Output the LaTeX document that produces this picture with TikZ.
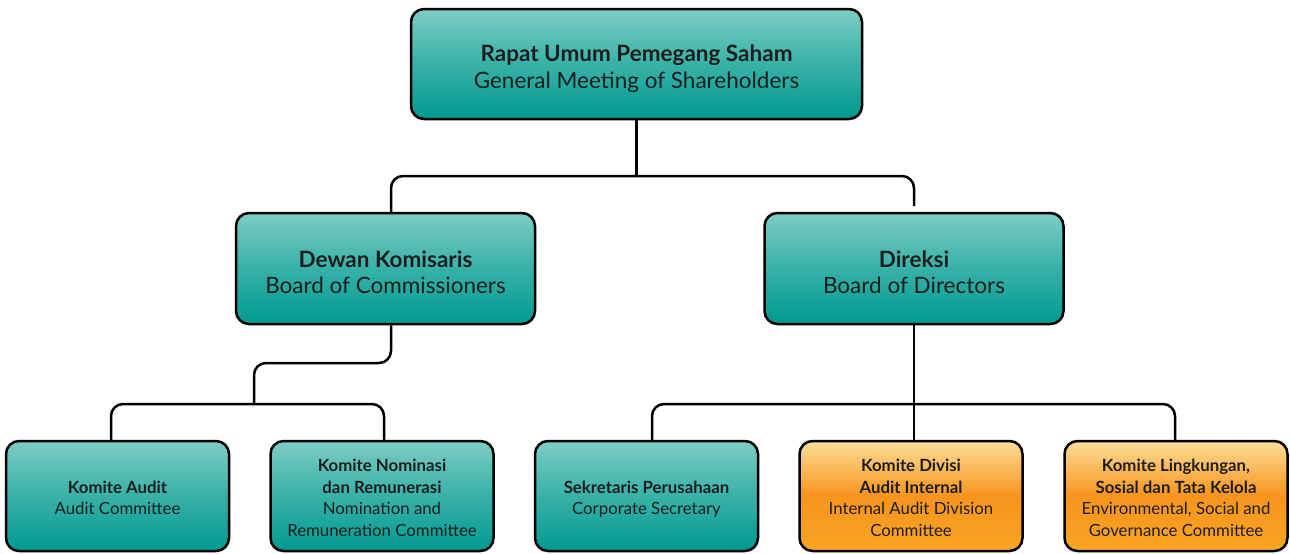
\documentclass[tikz,border=0pt]{standalone}
\usepackage{fontspec}
\setmainfont{Lato}
\definecolor{tealL}{RGB}{124,205,197}
\definecolor{tealD}{RGB}{0,154,144}
\definecolor{orgL}{RGB}{253,222,152}
\definecolor{orgM}{RGB}{247,148,30}
\definecolor{orgD}{RGB}{249,166,34}
\definecolor{txt}{RGB}{30,30,30}
\newcommand\btext[2]{\raisebox{0pt}[\dimexpr\height+#1\relax][\depth]{\begin{tabular}{@{}c@{}}#2\end{tabular}}}
\begin{document}
\begin{tikzpicture}[x=1pt,y=-1pt,
  boxbase/.style={draw=black, line width=2.5pt, rounded corners=13pt, text=txt, inner sep=0pt},
  tealbox/.style={boxbase, top color=tealL, bottom color=tealD, middle color=tealD!55!tealL},
  orgbox/.style={boxbase, top color=orgL, bottom color=orgD, middle color=orgM},
  bigbox/.style={minimum width=451pt, minimum height=110pt, font=\fontsize{22.5}{27}\selectfont},
  midbox/.style={minimum width=299pt, minimum height=111pt, font=\fontsize{22.5}{26}\selectfont},
  smallbox/.style={minimum width=223pt, minimum height=110pt, font=\fontsize{16.8}{21.5}\selectfont},
  conn/.style={draw=black, line width=2.5pt, rounded corners=12pt}]
\useasboundingbox (0,0) rectangle (1290,554);
% nodes
\node[tealbox,bigbox] (rups) at (636.5,64) {\btext{11pt}{\textbf{Rapat Umum Pemegang Saham}\\General Meeting of Shareholders}};
\node[tealbox,midbox] (dk) at (385.5,268.5) {\btext{13pt}{\textbf{Dewan Komisaris}\\Board of Commissioners}};
\node[tealbox,midbox] (dir) at (914,268.5) {\btext{13pt}{\textbf{Direksi}\\Board of Directors}};
\node[tealbox,smallbox] (ka) at (117.5,496) {\btext{7pt}{\textbf{Komite Audit}\\Audit Committee}};
\node[tealbox,smallbox] (kn) at (382,496) {\btext{7pt}{\textbf{Komite Nominasi}\\\textbf{dan Remunerasi}\\Nomination and\\Remuneration Committee}};
\node[tealbox,smallbox] (ks) at (646.5,496) {\btext{7pt}{\textbf{Sekretaris Perusahaan}\\Corporate Secretary}};
\node[orgbox,smallbox] (kd) at (911,496) {\btext{7pt}{\textbf{Komite Divisi}\\\textbf{Audit Internal}\\Internal Audit Division\\Committee}};
\node[orgbox,smallbox] (kl) at (1176,496) {\btext{7pt}{\textbf{Komite Lingkungan,}\\\textbf{Sosial dan Tata Kelola}\\Environmental, Social and\\Governance Committee}};
% junction coordinates
\coordinate (j1) at (636.5,176);
\coordinate (dirend) at (914,206);
\coordinate (j2) at (254,363);
\coordinate (j3) at (254,404);
\coordinate (j4) at (914,404);
% connectors
\draw[conn] (rups.south) -- (j1);
\draw[conn] ([xshift=5.5pt]dk.north) |- (j1) -| (dirend);
\draw[conn] ([xshift=5.5pt]dk.south) |- (j2) -- (j3);
\draw[conn] ([xshift=-6.5pt]ka.north) |- (j3) -| ([xshift=2pt]kn.north);
\draw[conn] (dir.south) -- (dir.south |- kd.north);
\draw[conn] ([xshift=5.5pt]ks.north) |- (j4) -| ([xshift=-1pt]kl.north);
\end{tikzpicture}
\end{document}
